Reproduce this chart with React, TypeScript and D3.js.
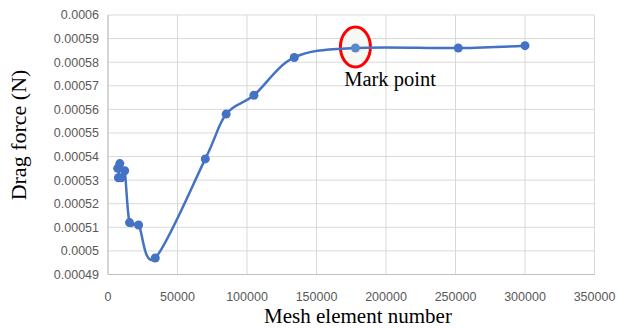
import React from "react";
import * as d3 from "d3";

const meshCounts = [7000, 8500, 7500, 9500, 12000, 15500, 22000, 34000, 70000, 85000, 105000, 134000, 178000, 252000, 300000];
const dragForces = [0.000535, 0.000537, 0.000531, 0.000531, 0.000534, 0.000512, 0.000511, 0.000497, 0.000539, 0.000558, 0.000566, 0.000582, 0.000586, 0.000586, 0.000587];
const markIndex = 12;
const xTicks = [0, 50000, 100000, 150000, 200000, 250000, 300000, 350000];
const yTicks = [0.00049, 0.0005, 0.00051, 0.00052, 0.00053, 0.00054, 0.00055, 0.00056, 0.00057, 0.00058, 0.00059, 0.0006];
const xTitle = "Mesh element number";
const yTitle = "Drag force (N)";
const markLabel = "Mark point";

const W = 618;
const H = 328;
const L = 108;
const R = 594.5;
const T = 15;
const B = 274.5;

export default function App() {
  const x = d3.scaleLinear().domain([0, 350000]).range([L, R]);
  const y = d3.scaleLinear().domain([0.00049, 0.0006]).range([B, T]);
  const pts: [number, number][] = meshCounts.map((m, i) => [x(m), y(dragForces[i])]);
  const line = d3.line().curve(d3.curveCardinal.tension(0))(pts) || "";
  const blue = "#4472C4";
  const sans = "'Liberation Sans', Arial, sans-serif";
  const serif = "'Liberation Serif', 'Times New Roman', serif";
  const mx = x(meshCounts[markIndex]);
  const my = y(dragForces[markIndex]);
  return (
    <svg width={W} height={H} style={{ position: "absolute", left: 0, top: 0, background: "#fff" }}>
      {yTicks.map((t) => (
        <line key={"gy" + t} x1={L} x2={R} y1={y(t)} y2={y(t)} stroke="#d9d9d9" strokeWidth={1} />
      ))}
      {xTicks.map((t) => (
        <line key={"gx" + t} x1={x(t)} x2={x(t)} y1={T} y2={B} stroke="#d9d9d9" strokeWidth={1} />
      ))}
      <line x1={L} x2={R} y1={B} y2={B} stroke="#bfbfbf" strokeWidth={1} />
      <line x1={L} x2={L} y1={T} y2={B} stroke="#bfbfbf" strokeWidth={1} />
      {yTicks.map((t) => (
        <text key={"ly" + t} x={99} y={y(t)} dy="0.35em" textAnchor="end" fontFamily={sans} fontSize={12.5} fill="#595959">
          {d3.format("")(+t.toPrecision(2))}
        </text>
      ))}
      {xTicks.map((t) => (
        <text key={"lx" + t} x={x(t)} y={297} dy="0.35em" textAnchor="middle" fontFamily={sans} fontSize={12.5} fill="#595959">
          {t}
        </text>
      ))}
      <ellipse cx={mx} cy={my - 1} rx={15} ry={20} fill="#f7f7f4" stroke="#ff0000" strokeWidth={3} />
      <path d={line} fill="none" stroke={blue} strokeWidth={2.5} />
      {pts.map(([px, py], i) => (
        <circle key={i} cx={px} cy={py} r={4.5} fill={i === markIndex ? "#5b87cc" : blue} />
      ))}
      <text x={390} y={86} textAnchor="middle" fontFamily={serif} fontSize={20.5} fill="#000">
        {markLabel}
      </text>
      <text x={358} y={323} textAnchor="middle" fontFamily={serif} fontSize={21} fill="#000">
        {xTitle}
      </text>
      <text transform={`translate(26,135) rotate(-90)`} textAnchor="middle" fontFamily={serif} fontSize={22} fill="#000">
        {yTitle}
      </text>
    </svg>
  );
}
